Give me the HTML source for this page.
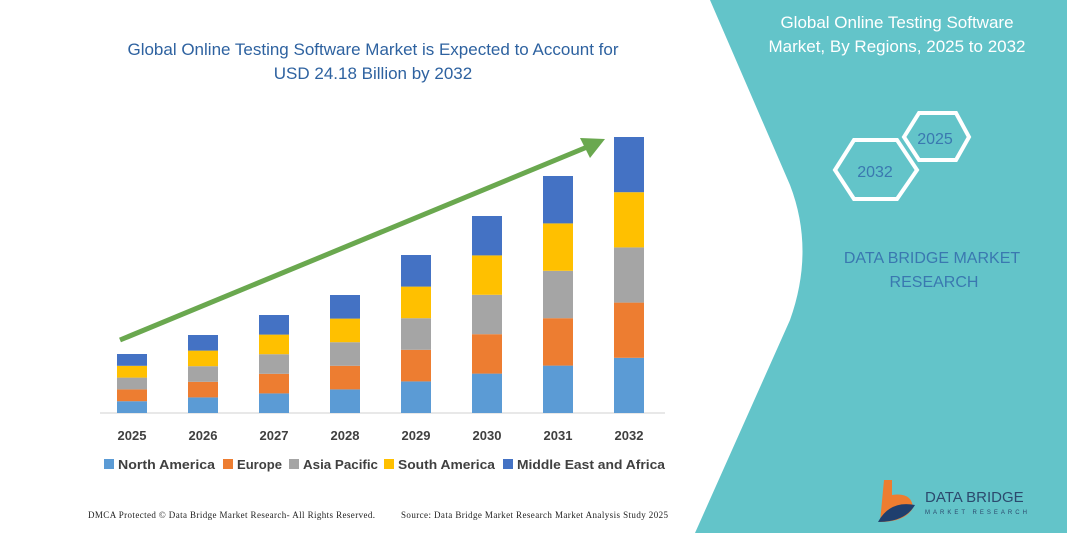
<!DOCTYPE html><html><head><style>body{margin:0}svg{display:block}</style></head><body>
<svg width="1067" height="533" xmlns="http://www.w3.org/2000/svg" font-family="Liberation Sans, sans-serif">
<rect width="1067" height="533" fill="#fff"/>
<path d="M710,0 L1067,0 L1067,533 L695,533 L790,320 Q815,250 790,185 Z" fill="#63c4c9"/>
<text x="897" y="28" fill="#fff" font-size="17" text-anchor="middle">Global Online Testing Software</text>
<text x="897" y="52" fill="#fff" font-size="17" text-anchor="middle">Market, By Regions, 2025 to 2032</text>
<polygon points="835,170 854,140 897,140 917,170 897,199 854,199" fill="none" stroke="#fff" stroke-width="4"/>
<text x="875" y="177" fill="#3a78b0" font-size="16" text-anchor="middle">2032</text>
<polygon points="904,137 919,113 956,113 969,137 956,160 919,160" fill="none" stroke="#fff" stroke-width="4"/>
<text x="935" y="144" fill="#3a78b0" font-size="16" text-anchor="middle">2025</text>
<text x="932" y="263" fill="#3a78b0" font-size="16" text-anchor="middle">DATA BRIDGE MARKET</text>
<text x="934" y="287" fill="#3a78b0" font-size="16" text-anchor="middle">RESEARCH</text>
<path d="M884,480 L892,480 L892,495 Q912,492 913,508 Q905,522 880,522 Z" fill="#ee7d30"/>
<path d="M878,522 Q890,500 915,505 Q905,522 878,522Z" fill="#1f3f6e"/>
<text x="925" y="502" fill="#2c4a6e" font-size="15">DATA BRIDGE</text>
<text x="925" y="514" fill="#2c4a6e" font-size="6" letter-spacing="3">MARKET RESEARCH</text>
<text x="373" y="55" fill="#2e62a0" font-size="17" text-anchor="middle">Global Online Testing Software Market is Expected to Account for</text>
<text x="373" y="79" fill="#2e62a0" font-size="17" text-anchor="middle">USD 24.18 Billion by 2032</text>
<line x1="100" y1="413" x2="665" y2="413" stroke="#d0d0d0"/>
<g>
<rect x="117" y="401.2" width="30" height="11.8" fill="#5b9bd5"/><rect x="117" y="389.4" width="30" height="11.8" fill="#ed7d31"/><rect x="117" y="377.6" width="30" height="11.8" fill="#a5a5a5"/><rect x="117" y="365.8" width="30" height="11.8" fill="#ffc000"/><rect x="117" y="354" width="30" height="11.8" fill="#4472c4"/>
<rect x="188" y="397.4" width="30" height="15.6" fill="#5b9bd5"/><rect x="188" y="381.8" width="30" height="15.6" fill="#ed7d31"/><rect x="188" y="366.2" width="30" height="15.6" fill="#a5a5a5"/><rect x="188" y="350.6" width="30" height="15.6" fill="#ffc000"/><rect x="188" y="335" width="30" height="15.6" fill="#4472c4"/>
<rect x="259" y="393.4" width="30" height="19.6" fill="#5b9bd5"/><rect x="259" y="373.8" width="30" height="19.6" fill="#ed7d31"/><rect x="259" y="354.2" width="30" height="19.6" fill="#a5a5a5"/><rect x="259" y="334.6" width="30" height="19.6" fill="#ffc000"/><rect x="259" y="315" width="30" height="19.6" fill="#4472c4"/>
<rect x="330" y="389.4" width="30" height="23.6" fill="#5b9bd5"/><rect x="330" y="365.8" width="30" height="23.6" fill="#ed7d31"/><rect x="330" y="342.2" width="30" height="23.6" fill="#a5a5a5"/><rect x="330" y="318.6" width="30" height="23.6" fill="#ffc000"/><rect x="330" y="295" width="30" height="23.6" fill="#4472c4"/>
<rect x="401" y="381.4" width="30" height="31.6" fill="#5b9bd5"/><rect x="401" y="349.8" width="30" height="31.6" fill="#ed7d31"/><rect x="401" y="318.2" width="30" height="31.6" fill="#a5a5a5"/><rect x="401" y="286.6" width="30" height="31.6" fill="#ffc000"/><rect x="401" y="255" width="30" height="31.6" fill="#4472c4"/>
<rect x="472" y="373.6" width="30" height="39.4" fill="#5b9bd5"/><rect x="472" y="334.2" width="30" height="39.4" fill="#ed7d31"/><rect x="472" y="294.8" width="30" height="39.4" fill="#a5a5a5"/><rect x="472" y="255.4" width="30" height="39.4" fill="#ffc000"/><rect x="472" y="216" width="30" height="39.4" fill="#4472c4"/>
<rect x="543" y="365.6" width="30" height="47.4" fill="#5b9bd5"/><rect x="543" y="318.2" width="30" height="47.4" fill="#ed7d31"/><rect x="543" y="270.8" width="30" height="47.4" fill="#a5a5a5"/><rect x="543" y="223.4" width="30" height="47.4" fill="#ffc000"/><rect x="543" y="176" width="30" height="47.4" fill="#4472c4"/>
<rect x="614" y="357.8" width="30" height="55.2" fill="#5b9bd5"/><rect x="614" y="302.6" width="30" height="55.2" fill="#ed7d31"/><rect x="614" y="247.4" width="30" height="55.2" fill="#a5a5a5"/><rect x="614" y="192.2" width="30" height="55.2" fill="#ffc000"/><rect x="614" y="137" width="30" height="55.2" fill="#4472c4"/>
</g>
<g font-size="13" font-weight="bold" fill="#404040" text-anchor="middle">
<text x="132" y="440">2025</text><text x="203" y="440">2026</text><text x="274" y="440">2027</text><text x="345" y="440">2028</text><text x="416" y="440">2029</text><text x="487" y="440">2030</text><text x="558" y="440">2031</text><text x="629" y="440">2032</text>
</g>
<line x1="120" y1="340" x2="592" y2="145" stroke="#6aa84f" stroke-width="5"/>
<polygon points="605,139 580,138 590,158" fill="#6aa84f"/>
<g font-size="13" font-weight="bold" fill="#404040">
<rect x="104" y="459" width="10" height="10" fill="#5b9bd5"/><text x="118" y="469" textLength="97" lengthAdjust="spacingAndGlyphs">North America</text>
<rect x="223" y="459" width="10" height="10" fill="#ed7d31"/><text x="237" y="469" textLength="45" lengthAdjust="spacingAndGlyphs">Europe</text>
<rect x="289" y="459" width="10" height="10" fill="#a5a5a5"/><text x="303" y="469" textLength="75" lengthAdjust="spacingAndGlyphs">Asia Pacific</text>
<rect x="384" y="459" width="10" height="10" fill="#ffc000"/><text x="398" y="469" textLength="97" lengthAdjust="spacingAndGlyphs">South America</text>
<rect x="503" y="459" width="10" height="10" fill="#4472c4"/><text x="517" y="469" textLength="148" lengthAdjust="spacingAndGlyphs">Middle East and Africa</text>
</g>
<text x="88" y="518" font-size="9" font-family="Liberation Serif, serif" fill="#222" textLength="287">DMCA Protected © Data Bridge Market Research- All Rights Reserved.</text>
<text x="401" y="518" font-size="9" font-family="Liberation Serif, serif" fill="#222" textLength="267">Source: Data Bridge Market Research  Market Analysis Study 2025</text>
</svg></body></html>
